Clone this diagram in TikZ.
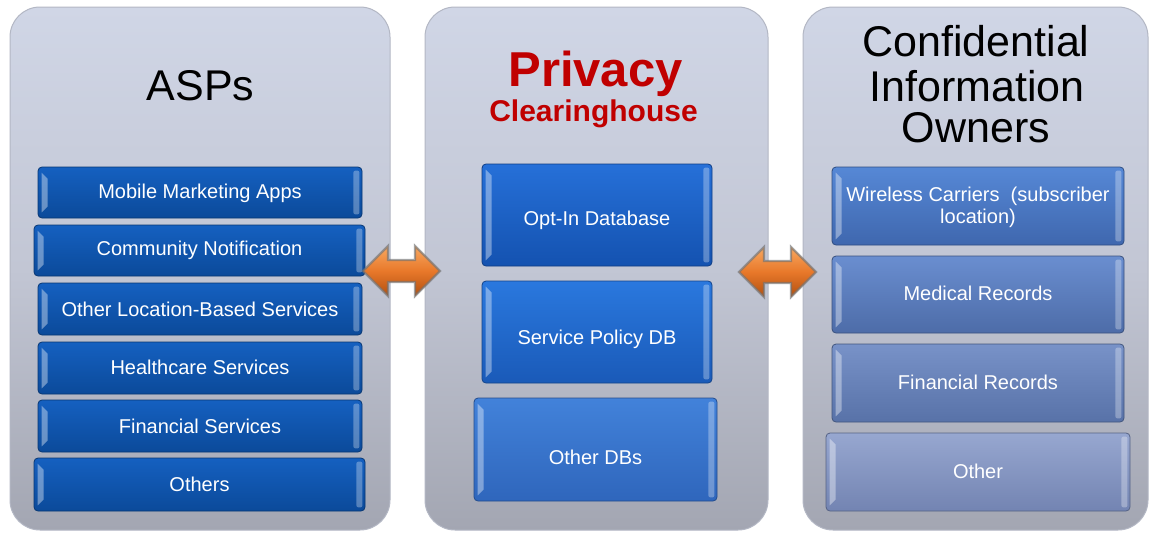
\documentclass[tikz,border=0pt]{standalone}
\usepackage{fontspec}
\setmainfont{Liberation Sans}
\usetikzlibrary{calc}
\definecolor{panTop}{HTML}{D0D6E6}
\definecolor{panMid}{HTML}{C2C6D4}
\definecolor{panBot}{HTML}{A3A6B2}
\definecolor{panEdge}{HTML}{B3B7C4}
\definecolor{privRed}{HTML}{C00000}
\definecolor{aTop}{HTML}{1560C0}
\definecolor{aBot}{HTML}{0B4A9A}
\definecolor{mTopA}{HTML}{2670D8}
\definecolor{mBotA}{HTML}{1452B0}
\definecolor{mTopB}{HTML}{2A78DE}
\definecolor{mBotB}{HTML}{1A5AB8}
\definecolor{mTopC}{HTML}{4282DA}
\definecolor{mBotC}{HTML}{2F66BC}
\definecolor{rTopA}{HTML}{5688D6}
\definecolor{rBotA}{HTML}{3F67AE}
\definecolor{rTopB}{HTML}{6A8ED0}
\definecolor{rBotB}{HTML}{4D6CA8}
\definecolor{rTopC}{HTML}{7892C8}
\definecolor{rBotC}{HTML}{5872A8}
\definecolor{rTopD}{HTML}{97A7D0}
\definecolor{rBotD}{HTML}{7384B2}
\definecolor{orTop}{HTML}{F8A860}
\definecolor{orMid}{HTML}{E8782A}
\definecolor{orBot}{HTML}{B25010}
\newcommand{\mybox}[9]{%
  \node[boxshape, top color=#6, bottom color=#7, draw=#7!75!black,
        minimum width={#4-#2}, minimum height={#5-#3}] (#1) at ({(#2+#4)/2},{(#3+#5)/2}) {};
  \fill[white, opacity=.38] ($(#1.north west)+(4,6)$) -- ($(#1.north west)+(10,12)$)
        -- ($(#1.south west)+(10,-12)$) -- ($(#1.south west)+(4,-6)$) -- cycle;
  \fill[white, opacity=.30, rounded corners=2pt] ($(#1.north east)+(-9,4)$) rectangle ($(#1.south east)+(-3,-4)$);
  \node[boxtext] (#1t) at ($(#1.center)+(0,#9)$) {#8};
}
\newcommand{\dblarrow}[1]{%
  \path[arrowshape] ($(#1)+(-38.5,0)$) -- ($(#1)+(-13.5,-25)$) -- ($(#1)+(-13.5,-11)$)
     -- ($(#1)+(13.5,-11)$) -- ($(#1)+(13.5,-25)$) -- ($(#1)+(38.5,0)$)
     -- ($(#1)+(13.5,25)$) -- ($(#1)+(13.5,11)$) -- ($(#1)+(-13.5,11)$)
     -- ($(#1)+(-13.5,25)$) -- cycle;
}
\begin{document}
\begin{tikzpicture}[x=1pt,y=-1pt,
  panel/.style={rectangle, rounded corners=30pt, top color=panTop, bottom color=panBot,
      middle color=panMid, draw=panEdge, line width=1pt, inner sep=0pt},
  boxshape/.style={rectangle, rounded corners=4pt, line width=0.8pt, inner sep=0pt},
  boxtext/.style={text=white, font=\fontsize{20}{22}\selectfont, align=center, inner sep=0pt},
  title/.style={text=black, font=\fontsize{43}{43}\selectfont, anchor=base, inner sep=0pt},
  redtitle/.style={text=privRed, anchor=base, inner sep=0pt},
  arrowshape/.style={top color=orTop, bottom color=orBot, middle color=orMid,
      draw=black!55, draw opacity=.65, line width=2.2pt, line join=miter},
]
\useasboundingbox (0,0) rectangle (1151,533);
\fill[white] (0,0) rectangle (1151,533);

% panels
\node[panel, minimum width=380, minimum height=523] (pa) at (200,268.5) {};
\node[panel, minimum width=343, minimum height=523] (pb) at (596.5,268.5) {};
\node[panel, minimum width=345, minimum height=523] (pc) at (975.5,268.5) {};

% titles
\node[title] (tA) at (200.5,100) {ASPs};
\node[redtitle, font=\fontsize{49}{49}\selectfont\bfseries] (tP) at (595.5,86) {Privacy};
\node[redtitle, font=\fontsize{30}{30}\selectfont\bfseries] (tC) at (593.5,121) {Clearinghouse};
\node[title] (tO1) at (976,56) {Confidential};
\node[title] (tO2) at (977,101) {Information};
\node[title] (tO3) at (976,142) {Owners};

% ASP boxes
\mybox{a1}{38}{167}{362}{218}{aTop}{aBot}{Mobile Marketing Apps}{1}
\mybox{a2}{34}{225}{365}{276}{aTop}{aBot}{Community Notification}{0}
\mybox{a3}{38}{283}{362}{335}{aTop}{aBot}{Other Location-Based Services}{0}
\mybox{a4}{38}{342}{362}{394}{aTop}{aBot}{Healthcare Services}{-1}
\mybox{a5}{38}{400}{362}{452}{aTop}{aBot}{Financial Services}{0}
\mybox{a6}{34}{458}{365}{511}{aTop}{aBot}{Others}{0}

% clearinghouse boxes
\mybox{m1}{482}{164}{712}{266}{mTopA}{mBotA}{Opt-In Database}{5}
\mybox{m2}{482}{281}{712}{383}{mTopB}{mBotB}{Service Policy DB}{7}
\mybox{m3}{474}{398}{717}{501}{mTopC}{mBotC}{Other DBs}{8}

% owner boxes
\mybox{r1}{832}{167}{1124}{245}{rTopA}{rBotA}{Wireless Carriers\ \ (subscriber\\location)}{1}
\mybox{r2}{832}{256}{1124}{333}{rTopB}{rBotB}{Medical Records}{-1}
\mybox{r3}{832}{344}{1124}{422}{rTopC}{rBotC}{Financial Records}{-1}
\mybox{r4}{826}{433}{1130}{511}{rTopD}{rBotD}{Other}{-1}

% connectors
\coordinate (ab) at (401.5,271);
\coordinate (bc) at (777.5,272);
\dblarrow{ab}
\dblarrow{bc}
\end{tikzpicture}
\end{document}
